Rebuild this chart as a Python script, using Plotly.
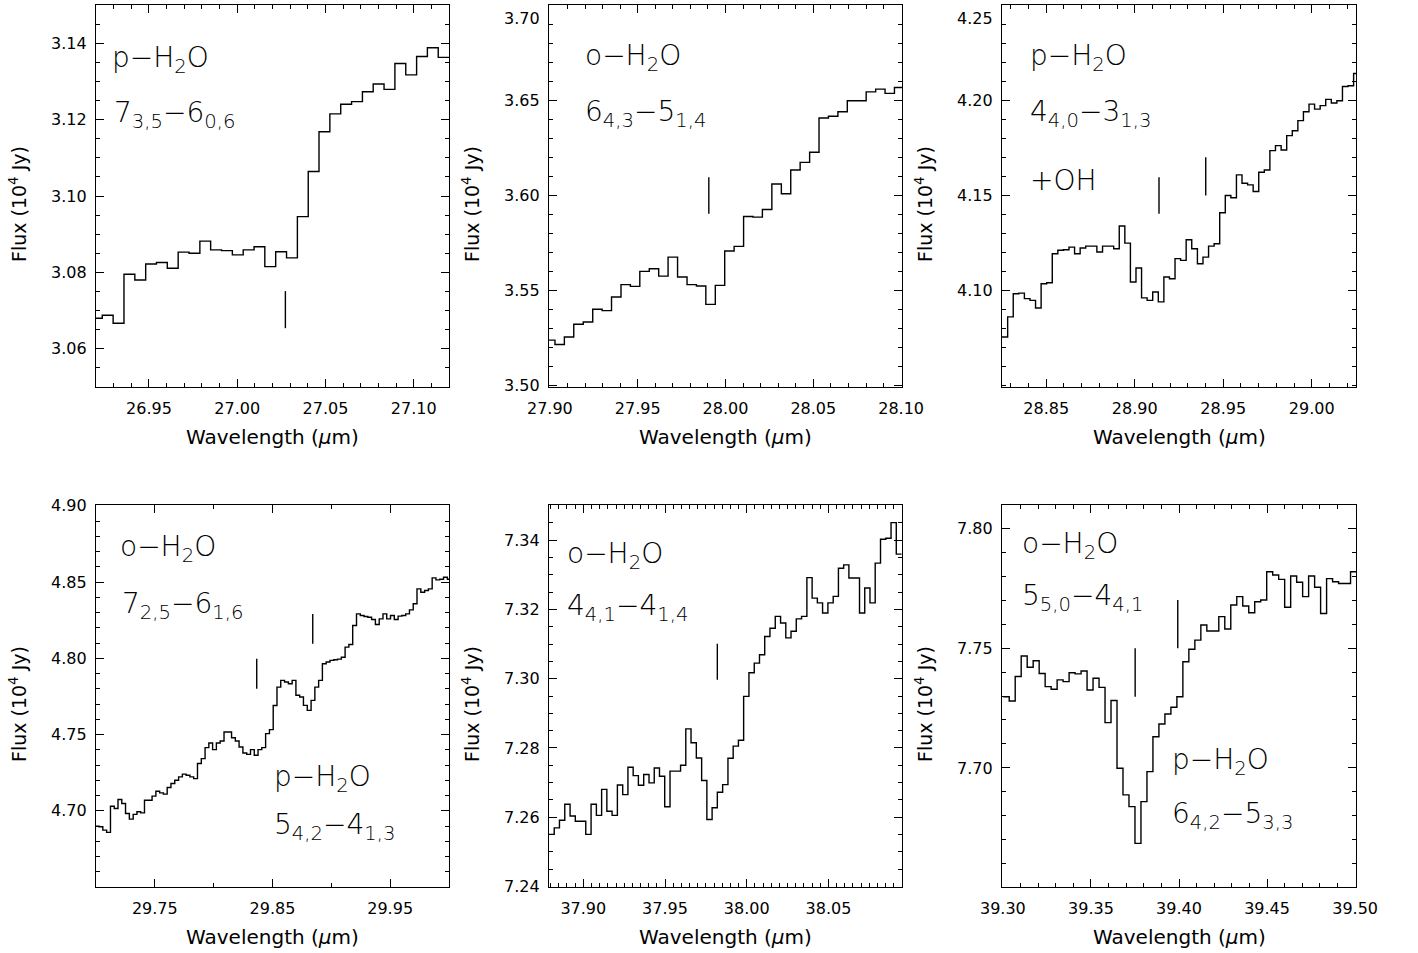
import numpy as np
import plotly.graph_objects as go

W, H = 1418, 953

# ---------------- data ----------------
p1_wl = [26.9205, 26.9266, 26.9328, 26.9389, 26.9451, 26.9512, 26.9573, 26.9635, 26.9696, 26.9758,
         26.9819, 26.9880, 26.9942, 27.0003, 27.0065, 27.0126, 27.0187, 27.0249, 27.0310, 27.0372,
         27.0433, 27.0494, 27.0556, 27.0617, 27.0679, 27.0740, 27.0801, 27.0863, 27.0924, 27.0986,
         27.1047, 27.1108, 27.1170]
p1_flux = [3.0680, 3.0688, 3.0667, 3.0795, 3.0780, 3.0822, 3.0826, 3.0811, 3.0853, 3.0850,
           3.0882, 3.0859, 3.0857, 3.0846, 3.0859, 3.0867, 3.0815, 3.0854, 3.0838, 3.0946,
           3.1064, 3.1168, 3.1215, 3.1240, 3.1247, 3.1273, 3.1293, 3.1279, 3.1347, 3.1317,
           3.1365, 3.1388, 3.1363]

p2_wl = [27.9002, 27.9056, 27.9109, 27.9163, 27.9217, 27.9271, 27.9324, 27.9378, 27.9432, 27.9485,
         27.9539, 27.9593, 27.9646, 27.9700, 27.9754, 27.9808, 27.9861, 27.9915, 27.9969, 28.0022,
         28.0076, 28.0130, 28.0183, 28.0237, 28.0291, 28.0345, 28.0398, 28.0452, 28.0506, 28.0559,
         28.0613, 28.0667, 28.0720, 28.0774, 28.0828, 28.0882, 28.0935, 28.0989]
p2_flux = [3.5237, 3.5214, 3.5254, 3.5321, 3.5333, 3.5400, 3.5393, 3.5465, 3.5530, 3.5521,
           3.5600, 3.5614, 3.5575, 3.5675, 3.5570, 3.5530, 3.5523, 3.5426, 3.5526, 3.5707,
           3.5732, 3.5889, 3.5886, 3.5926, 3.6061, 3.6009, 3.6135, 3.6175, 3.6228, 3.6409,
           3.6418, 3.6442, 3.6500, 3.6500, 3.6547, 3.6561, 3.6539, 3.6570]

p3_wl = [28.8266, 28.8298, 28.8329, 28.8361, 28.8392, 28.8424, 28.8455, 28.8487, 28.8518, 28.8550,
         28.8581, 28.8613, 28.8644, 28.8676, 28.8707, 28.8739, 28.8770, 28.8802, 28.8834, 28.8865,
         28.8897, 28.8928, 28.8960, 28.8991, 28.9023, 28.9054, 28.9086, 28.9117, 28.9149, 28.9180,
         28.9212, 28.9243, 28.9275, 28.9306, 28.9338, 28.9370, 28.9401, 28.9433, 28.9464, 28.9496,
         28.9527, 28.9559, 28.9590, 28.9622, 28.9653, 28.9685, 28.9716, 28.9748, 28.9779, 28.9811,
         28.9843, 28.9874, 28.9906, 28.9937, 28.9969, 29.0000, 29.0032, 29.0063, 29.0095, 29.0126,
         29.0158, 29.0189, 29.0221, 29.0252]
p3_flux = [4.0754, 4.0860, 4.0982, 4.0985, 4.0956, 4.0947, 4.0907, 4.1035, 4.1040, 4.1193,
           4.1211, 4.1214, 4.1228, 4.1193, 4.1223, 4.1233, 4.1233, 4.1202, 4.1233, 4.1233,
           4.1219, 4.1339, 4.1249, 4.1044, 4.1118, 4.0960, 4.0947, 4.0991, 4.0939, 4.1070,
           4.1061, 4.1167, 4.1158, 4.1267, 4.1219, 4.1140, 4.1175, 4.1233, 4.1246, 4.1409,
           4.1500, 4.1488, 4.1609, 4.1565, 4.1556, 4.1521, 4.1623, 4.1635, 4.1737, 4.1763,
           4.1740, 4.1816, 4.1842, 4.1895, 4.1942, 4.1982, 4.1956, 4.1974, 4.2007, 4.1988,
           4.2000, 4.2075, 4.2079, 4.2144]

p4_wl = [29.7010, 29.7042, 29.7074, 29.7107, 29.7139, 29.7171, 29.7203, 29.7235, 29.7267, 29.7300,
         29.7332, 29.7364, 29.7396, 29.7428, 29.7460, 29.7493, 29.7525, 29.7557, 29.7589, 29.7621,
         29.7653, 29.7686, 29.7718, 29.7750, 29.7782, 29.7814, 29.7846, 29.7879, 29.7911, 29.7943,
         29.7975, 29.8007, 29.8039, 29.8072, 29.8104, 29.8136, 29.8168, 29.8200, 29.8232, 29.8265,
         29.8297, 29.8329, 29.8361, 29.8393, 29.8425, 29.8458, 29.8490, 29.8522, 29.8554, 29.8586,
         29.8619, 29.8651, 29.8683, 29.8715, 29.8747, 29.8779, 29.8812, 29.8844, 29.8876, 29.8908,
         29.8940, 29.8972, 29.9005, 29.9037, 29.9069, 29.9101, 29.9133, 29.9165, 29.9198, 29.9230,
         29.9262, 29.9294, 29.9326, 29.9358, 29.9391, 29.9423, 29.9455, 29.9487, 29.9519, 29.9551,
         29.9584, 29.9616, 29.9648, 29.9680, 29.9712, 29.9744, 29.9777, 29.9809, 29.9841, 29.9873,
         29.9905, 29.9937, 29.9970, 30.0002]
p4_flux = [4.6899, 4.6895, 4.6873, 4.6858, 4.7030, 4.7015, 4.7074, 4.7048, 4.6982, 4.6945,
           4.6976, 4.6993, 4.6986, 4.7069, 4.7069, 4.7096, 4.7128, 4.7117, 4.7109, 4.7152,
           4.7179, 4.7200, 4.7222, 4.7240, 4.7233, 4.7222, 4.7211, 4.7310, 4.7342, 4.7414,
           4.7444, 4.7401, 4.7444, 4.7457, 4.7516, 4.7516, 4.7479, 4.7457, 4.7418, 4.7379,
           4.7370, 4.7401, 4.7364, 4.7401, 4.7414, 4.7506, 4.7532, 4.7690, 4.7811, 4.7855,
           4.7844, 4.7833, 4.7855, 4.7757, 4.7746, 4.7691, 4.7658, 4.7724, 4.7811, 4.7855,
           4.7964, 4.7975, 4.7986, 4.7990, 4.7994, 4.8007, 4.8073, 4.8090, 4.8215, 4.8291,
           4.8280, 4.8274, 4.8269, 4.8254, 4.8221, 4.8258, 4.8291, 4.8258, 4.8280, 4.8254,
           4.8276, 4.8280, 4.8291, 4.8317, 4.8357, 4.8455, 4.8433, 4.8444, 4.8455, 4.8527,
           4.8514, 4.8518, 4.8531, 4.8518]

p5_wl = [37.8806, 37.8838, 37.8870, 37.8903, 37.8935, 37.8967, 37.8999, 37.9031, 37.9064, 37.9096,
         37.9128, 37.9160, 37.9192, 37.9225, 37.9257, 37.9289, 37.9321, 37.9353, 37.9386, 37.9418,
         37.9450, 37.9482, 37.9514, 37.9547, 37.9579, 37.9611, 37.9643, 37.9675, 37.9708, 37.9740,
         37.9772, 37.9804, 37.9836, 37.9869, 37.9901, 37.9933, 37.9965, 37.9997, 38.0030, 38.0062,
         38.0094, 38.0126, 38.0158, 38.0191, 38.0223, 38.0255, 38.0287, 38.0319, 38.0352, 38.0384,
         38.0416, 38.0448, 38.0480, 38.0513, 38.0545, 38.0577, 38.0609, 38.0641, 38.0674, 38.0706,
         38.0738, 38.0770, 38.0802, 38.0835, 38.0867, 38.0899, 38.0931]
p5_flux = [7.2550, 7.2569, 7.2591, 7.2637, 7.2603, 7.2588, 7.2588, 7.2550, 7.2637, 7.2605,
           7.2680, 7.2617, 7.2605, 7.2693, 7.2665, 7.2744, 7.2720, 7.2692, 7.2723, 7.2699,
           7.2742, 7.2718, 7.2630, 7.2733, 7.2733, 7.2750, 7.2855, 7.2815, 7.2771, 7.2706,
           7.2593, 7.2627, 7.2672, 7.2694, 7.2770, 7.2805, 7.2822, 7.2949, 7.3017, 7.3045,
           7.3069, 7.3122, 7.3146, 7.3180, 7.3161, 7.3118, 7.3137, 7.3173, 7.3180, 7.3292,
           7.3233, 7.3219, 7.3190, 7.3219, 7.3238, 7.3319, 7.3329, 7.3291, 7.3291, 7.3190,
           7.3262, 7.3219, 7.3334, 7.3403, 7.3406, 7.3451, 7.3360]

p6_wl = [39.3019, 39.3053, 39.3087, 39.3121, 39.3155, 39.3189, 39.3223, 39.3257, 39.3291, 39.3325,
         39.3359, 39.3393, 39.3427, 39.3461, 39.3495, 39.3529, 39.3563, 39.3597, 39.3631, 39.3665,
         39.3699, 39.3733, 39.3767, 39.3801, 39.3835, 39.3869, 39.3903, 39.3937, 39.3971, 39.4005,
         39.4039, 39.4073, 39.4107, 39.4141, 39.4175, 39.4209, 39.4243, 39.4277, 39.4311, 39.4345,
         39.4379, 39.4413, 39.4447, 39.4481, 39.4515, 39.4549, 39.4583, 39.4617, 39.4651, 39.4685,
         39.4719, 39.4753, 39.4787, 39.4821, 39.4855, 39.4889, 39.4923, 39.4957, 39.4991]
p6_flux = [7.7297, 7.7279, 7.7381, 7.7467, 7.7420, 7.7447, 7.7394, 7.7339, 7.7328, 7.7367,
           7.7360, 7.7397, 7.7392, 7.7404, 7.7325, 7.7374, 7.7336, 7.7189, 7.7281, 7.6999,
           7.6888, 7.6839, 7.6686, 7.6860, 7.6985, 7.7130, 7.7183, 7.7225, 7.7253, 7.7297,
           7.7443, 7.7495, 7.7533, 7.7596, 7.7571, 7.7571, 7.7631, 7.7579, 7.7679, 7.7714,
           7.7675, 7.7647, 7.7693, 7.7700, 7.7818, 7.7804, 7.7786, 7.7670, 7.7800, 7.7774,
           7.7714, 7.7800, 7.7753, 7.7644, 7.7789, 7.7776, 7.7769, 7.7769, 7.7818]

# line identification ticks: wavelength, lower flux, upper flux
p1_marks = ([27.0273], [3.0654], [3.0751])
p2_marks = ([27.9905], [3.5904], [3.6096])
p3_marks = ([28.9137, 28.9401], [4.1404, 4.1500], [4.1596, 4.1702])
p4_marks = ([29.8366, 29.8842], [4.7800, 4.8095], [4.7997, 4.8291])
p5_marks = ([37.9820], [7.2997], [7.3101])
p6_marks = ([39.3751, 39.3993], [7.7297, 7.7499], [7.7499, 7.7700])

# axis ranges and tick labels
x_ranges = [[26.92, 27.12], [27.8995, 28.1005], [28.825, 29.025],
            [29.70, 30.00], [37.879, 38.095], [39.2995, 39.5005]]
y_ranges = [[3.05, 3.15], [3.499, 3.7005], [4.049, 4.2505],
            [4.65, 4.9005], [7.2398, 7.3502], [7.6504, 7.8096]]
x_ticks = [[26.95, 27.00, 27.05, 27.10], [27.90, 27.95, 28.00, 28.05, 28.10],
           [28.85, 28.90, 28.95, 29.00], [29.75, 29.85, 29.95],
           [37.90, 37.95, 38.00, 38.05], [39.30, 39.35, 39.40, 39.45, 39.50]]
y_ticks = [[3.06, 3.08, 3.10, 3.12, 3.14], [3.50, 3.55, 3.60, 3.65, 3.70],
           [4.10, 4.15, 4.20, 4.25], [4.70, 4.75, 4.80, 4.85, 4.90],
           [7.24, 7.26, 7.28, 7.30, 7.32, 7.34], [7.70, 7.75, 7.80]]
x_minor = [0.01, 0.01, 0.01, 0.05, 0.005, 0.01]
y_minor = [0.005, 0.01, 0.01, 0.01, 0.005, 0.01]

labels = [
    ["p\u2212H<sub>2</sub>O", "7<sub>3,5</sub>\u22126<sub>0,6</sub>"],
    ["o\u2212H<sub>2</sub>O", "6<sub>4,3</sub>\u22125<sub>1,4</sub>"],
    ["p\u2212H<sub>2</sub>O", "4<sub>4,0</sub>\u22123<sub>1,3</sub>", "+OH"],
    ["o\u2212H<sub>2</sub>O", "7<sub>2,5</sub>\u22126<sub>1,6</sub>",
     "p\u2212H<sub>2</sub>O", "5<sub>4,2</sub>\u22124<sub>1,3</sub>"],
    ["o\u2212H<sub>2</sub>O", "4<sub>4,1</sub>\u22124<sub>1,4</sub>"],
    ["o\u2212H<sub>2</sub>O", "5<sub>5,0</sub>\u22124<sub>4,1</sub>",
     "p\u2212H<sub>2</sub>O", "6<sub>4,2</sub>\u22125<sub>3,3</sub>"],
]
# label anchor positions in pixels (left, vertical centre)
label_pos = [
    [(110, 60), (112, 114)],
    [(583, 57), (583, 113)],
    [(1028, 57), (1028, 113), (1028, 180)],
    [(118, 548), (120, 605), (272, 778), (272, 826)],
    [(565, 555), (565, 607)],
    [(1020, 545), (1020, 597), (1170, 761), (1170, 815)],
]

panels = [(p1_wl, p1_flux, p1_marks), (p2_wl, p2_flux, p2_marks), (p3_wl, p3_flux, p3_marks),
          (p4_wl, p4_flux, p4_marks), (p5_wl, p5_flux, p5_marks), (p6_wl, p6_flux, p6_marks)]

# ---------------- layout geometry ----------------
cols_px = [(96, 449), (549, 902), (1002, 1356)]
rows_px = [(5, 387), (505, 887)]
FONT = "DejaVu Sans"
INK = "black"
TICK_SIZE = 16


def px2x(px):
    return px / W


def px2y(py):
    return 1 - py / H


def step_xy(centers, values):
    c = centers
    edges = [c[0] - (c[1] - c[0]) / 2]
    edges += [(a + b) / 2 for a, b in zip(c[:-1], c[1:])]
    edges += [c[-1] + (c[-1] - c[-2]) / 2]
    return edges, list(values) + [values[-1]]


def minor_vals(rng, step):
    start = np.ceil(rng[0] / step - 1e-6) * step
    return [round(v, 4) for v in np.arange(start, rng[1] + 1e-9, step)]


fig = go.Figure()
layout = {}
annotations = []

for i, (wl, fl, marks) in enumerate(panels):
    r, c = divmod(i, 3)
    n = i + 1
    xa = "x" if n == 1 else f"x{n}"
    ya = "y" if n == 1 else f"y{n}"
    ex, ey = step_xy(wl, fl)
    fig.add_trace(go.Scatter(x=ex, y=ey, mode="lines", line=dict(color=INK, width=1.4, shape="hv"),
                             xaxis=xa, yaxis=ya, showlegend=False, hoverinfo="skip"))
    mx, my = [], []
    for w, lo, hi in zip(*marks):
        mx += [w, w, None]
        my += [lo, hi, None]
    fig.add_trace(go.Scatter(x=mx, y=my, mode="lines", line=dict(color=INK, width=1.4),
                             xaxis=xa, yaxis=ya, showlegend=False, hoverinfo="skip"))

    x0, x1 = cols_px[c]
    y0, y1 = rows_px[r]

    # y tick labels: labels too close to the page top are drawn as annotations, nudged down
    ylo, yhi = y_ranges[i]
    ytext = []
    for v in y_ticks[i]:
        py = y0 + (yhi - v) / (yhi - ylo) * (y1 - y0)
        if py < 12:
            ytext.append("")
            annotations.append(dict(text=f"{v:.2f}", x=px2x(x0 - 7), y=px2y(max(py, 0) + 13),
                                    xref="paper", yref="paper", showarrow=False,
                                    xanchor="right", yanchor="middle",
                                    font=dict(family=FONT, size=TICK_SIZE, color=INK)))
        else:
            ytext.append(f"{v:.2f}")

    common = dict(showline=True, linecolor=INK, linewidth=1.4, mirror="allticks",
                  ticks="inside", ticklen=8, tickwidth=1.1, tickcolor=INK, automargin=False,
                  showgrid=False, zeroline=False, tickformat=".2f",
                  tickfont=dict(family=FONT, size=TICK_SIZE, color=INK))
    layout["xaxis" if n == 1 else f"xaxis{n}"] = dict(
        common, domain=[px2x(x0), px2x(x1)], anchor=ya, range=x_ranges[i],
        tickmode="array", tickvals=x_ticks[i], ticklabelstandoff=7,
        minor=dict(ticks="inside", ticklen=4, tickwidth=1, tickcolor=INK,
                   tickmode="array", tickvals=minor_vals(x_ranges[i], x_minor[i]), showgrid=False))
    layout["yaxis" if n == 1 else f"yaxis{n}"] = dict(
        common, domain=[px2y(y1), px2y(y0)], anchor=xa, range=y_ranges[i],
        tickmode="array", tickvals=y_ticks[i], ticktext=ytext, ticklabelstandoff=5,
        minor=dict(ticks="inside", ticklen=4, tickwidth=1, tickcolor=INK,
                   tickmode="array", tickvals=minor_vals(y_ranges[i], y_minor[i]), showgrid=False))

    # axis titles
    annotations.append(dict(text="Wavelength (<i>\u03bc</i>m)", x=px2x((x0 + x1) / 2), y=px2y(y1 + 50),
                            xref="paper", yref="paper", showarrow=False, xanchor="center", yanchor="middle",
                            font=dict(family=FONT, size=20, color=INK)))
    annotations.append(dict(text="Flux (10<sup>4</sup> Jy)", x=px2x(x0 - 78), y=px2y((y0 + y1) / 2 + 8),
                            xref="paper", yref="paper", showarrow=False, textangle=-90,
                            xanchor="center", yanchor="middle",
                            font=dict(family=FONT, size=19, color=INK)))
    for txt, (lx, ly) in zip(labels[i], label_pos[i]):
        annotations.append(dict(text=txt, x=px2x(lx), y=px2y(ly), xref="paper", yref="paper",
                                showarrow=False, xanchor="left", yanchor="middle",
                                font=dict(family=FONT, size=28, color=INK, weight=200)))

fig.update_layout(**layout)
fig.update_layout(width=W, height=H, margin=dict(l=0, r=0, t=0, b=0),
                  paper_bgcolor="white", plot_bgcolor="white",
                  annotations=annotations, showlegend=False)
fig.write_html("out.html")
